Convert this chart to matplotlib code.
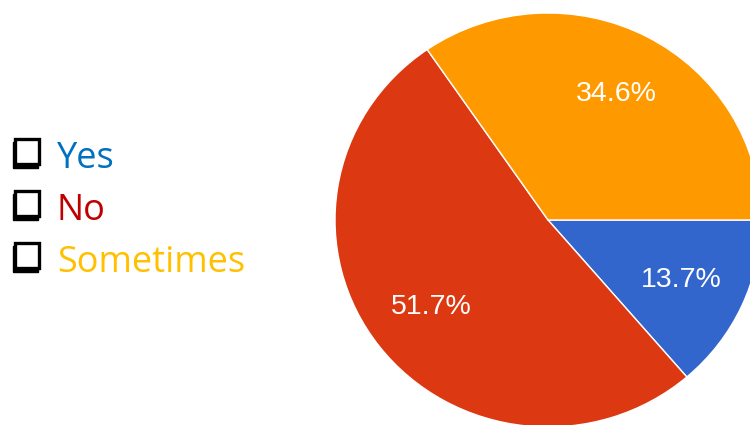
import matplotlib
matplotlib.use('Agg')
import matplotlib.pyplot as plt
from matplotlib.patches import Rectangle

# answers and shares (percent)
answers = ['Yes', 'No', 'Sometimes']
shares = [13.7, 51.7, 34.6]
slice_colors = ['#3366CC', '#DC3912', '#FF9900']
text_colors = ['#0070C0', '#C00000', '#FFC000']

W, H = 750, 425
fig = plt.figure(figsize=(7.5, 4.25), dpi=100)

# pie, centre at (548, 220) px, radius ~213 x 207 px
cx, cy = 548, 220
rx, ry = 213, 207
ax = fig.add_axes([0, 0, 1, 1])
wedges, texts, pcts = ax.pie(shares, colors=slice_colors, startangle=0, counterclock=False,
                             autopct='%.1f%%', pctdistance=0.69,
                             wedgeprops=dict(edgecolor='white', linewidth=1))
for t in pcts:
    t.set_color('white')
    t.set_fontsize(20.5)
    t.set_family('Liberation Sans')
ax.set_aspect('auto')
ax.set_xlim(-cx / rx, (W - cx) / rx)
ax.set_ylim(-(H - cy) / ry, cy / ry)
ax.axis('off')

# checkbox list on the left, drawn in pixel coordinates
lx = fig.add_axes([0, 0, 1, 1])
lx.set_xlim(0, W)
lx.set_ylim(H, 0)
lx.axis('off')
for i, (name, c) in enumerate(zip(answers, text_colors)):
    top = 139 + i * 52
    lx.add_patch(Rectangle((13, top + 3), 25, 26, facecolor='black', edgecolor='black'))
    lx.add_patch(Rectangle((15, top), 24, 25, facecolor='white', edgecolor='black', linewidth=2.4))
    lx.text(57, top + 29, name, color=c, fontsize=26, family='Open Sans', va='baseline', ha='left')

fig.savefig('out.png', dpi=100)
